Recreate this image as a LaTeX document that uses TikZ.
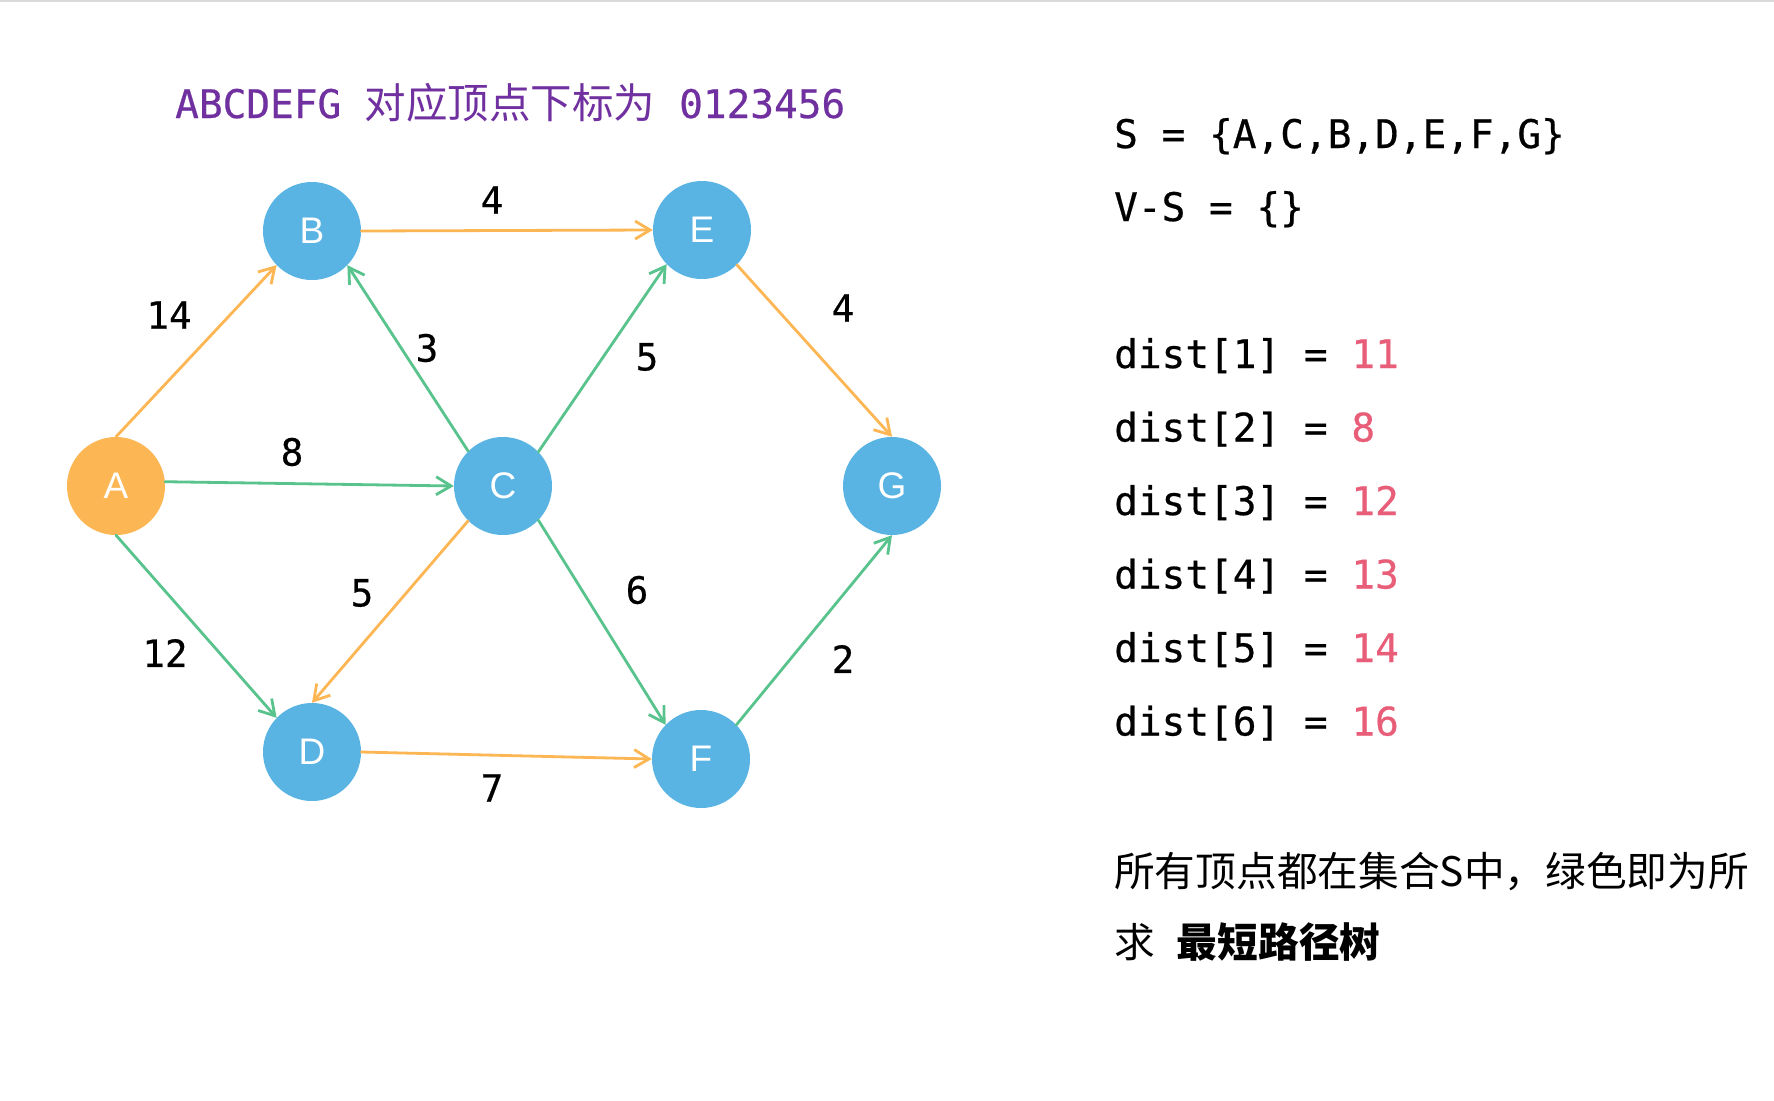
\documentclass[tikz,border=0pt]{standalone}
\usepackage{fontspec}
\usetikzlibrary{arrows.meta}
\newfontfamily\monof[FakeBold=0.5]{DejaVu Sans Mono}
\newfontfamily\cjkf{Noto Sans CJK SC}
\newfontfamily\nodef{Liberation Sans}
\definecolor{nblue}{HTML}{5AB4E3}
\definecolor{norange}{HTML}{FDB654}
\definecolor{eorange}{HTML}{FDB654}
\definecolor{egreen}{HTML}{58C38C}
\definecolor{tpurple}{HTML}{7030A0}
\definecolor{tred}{HTML}{E85D78}
\begin{document}
\begin{tikzpicture}[x=1pt,y=-1pt,
 vert/.style={circle, fill=nblue, minimum size=98pt, inner sep=0pt, text=white, font=\nodef\fontsize{37}{40}\selectfont},
 src/.style={vert, fill=norange},
 arr/.style={line width=2.8pt, -{Straight Barb[length=15pt,width=18pt]}, line cap=round, line join=round},
 ot/.style={arr, draw=eorange},
 gt/.style={arr, draw=egreen},
 wlab/.style={font=\monof\fontsize{37.5}{40}\selectfont, inner sep=0pt},
 mono/.style={font=\monof\fontsize{39.4}{44}\selectfont, inner sep=0pt, anchor=base west},
 cjktext/.style={font=\cjkf\fontsize{40.7}{46}\selectfont, inner sep=0pt, anchor=base west}]
\useasboundingbox (0,0) rectangle (1774,1100);
\fill[white] (0,0) rectangle (1774,1100);
\draw[black!15, line width=2pt] (0,1) -- (1774,1);

\node[src] (A) at (116,486) {A};
\node[vert] (B) at (312,231) {B};
\node[vert] (C) at (503,486) {C};
\node[vert] (D) at (312,752) {D};
\node[vert] (E) at (702,230) {E};
\node[vert] (F) at (701,759) {F};
\node[vert] (G) at (892,486) {G};

\draw[ot] (A.north) -- (B.224);
\draw[gt] (A.5) -- (C.west);
\draw[gt] (C.135) -- (B.316);
\draw[ot] (B.east) -- (E.west);
\draw[gt] (C.44) -- (E.224);
\draw[ot] (E.315) -- (G.north);
\draw[gt] (A.south) -- (D.136);
\draw[ot] (C.225) -- (D.north);
\draw[ot] (D.east) -- (F.west);
\draw[gt] (C.316) -- (F.136);
\draw[gt] (F.44) -- (G.south);

\node[wlab] (w14) at (169,315) {14};
\node[wlab] (w8) at (292,452) {8};
\node[wlab] (w3) at (427,348) {3};
\node[wlab] (w4a) at (492,200) {4};
\node[wlab] (w5a) at (647,357) {5};
\node[wlab] (w4b) at (843,308) {4};
\node[wlab] (w12) at (165,653) {12};
\node[wlab] (w5b) at (362,593) {5};
\node[wlab] (w7) at (492,788) {7};
\node[wlab] (w6) at (637,590) {6};
\node[wlab] (w2) at (843,659) {2};

\node[mono, text=tpurple] (title) at (175,118) {ABCDEFG {\cjkf\fontsize{41.5}{46}\selectfont 对应顶点下标为} 0123456};

\node[mono] (s) at (1114,148) {S = \{A,C,B,D,E,F,G\}};
\node[mono] (vs) at (1114,221) {V-S = \{\}};
\node[mono] (d1) at (1114,368) {dist[1] = \textcolor{tred}{11}};
\node[mono] (d2) at (1114,441.5) {dist[2] = \textcolor{tred}{8}};
\node[mono] (d3) at (1114,515) {dist[3] = \textcolor{tred}{12}};
\node[mono] (d4) at (1114,588.5) {dist[4] = \textcolor{tred}{13}};
\node[mono] (d5) at (1114,662) {dist[5] = \textcolor{tred}{14}};
\node[mono] (d6) at (1114,735.5) {dist[6] = \textcolor{tred}{16}};

\node[cjktext] (n1) at (1114,886) {所有顶点都在集合S中，绿色即为所};
\node[cjktext] (n2) at (1114,957) {求\hspace{22pt}{\bfseries 最短路径树}};
\end{tikzpicture}
\end{document}
